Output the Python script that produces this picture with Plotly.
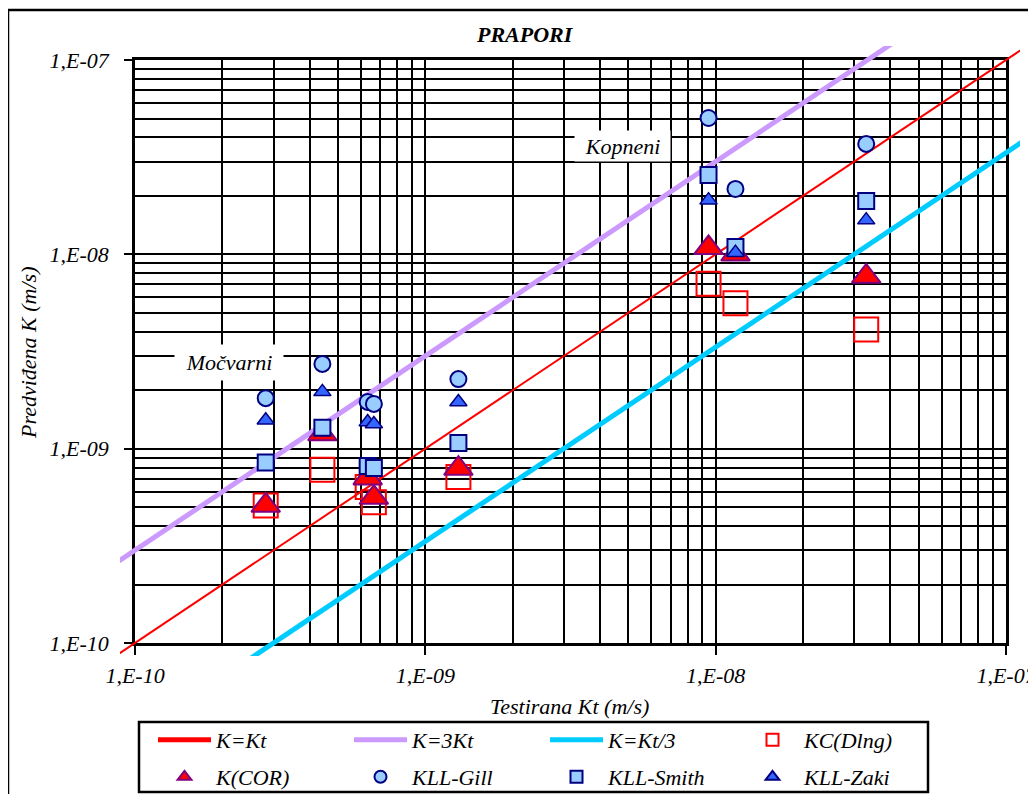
import plotly.graph_objects as go

# ---------------- data ----------------
kt = [2.82e-10, 4.42e-10, 6.33e-10, 6.65e-10, 1.30e-9, 9.45e-9, 1.17e-8, 3.30e-8]
kc_dlng = [5.1e-10, 7.8e-10, 6.35e-10, 5.3e-10, 7.15e-10, 7.05e-9, 5.6e-9, 4.1e-9]
k_cor = [5.1e-10, 1.19e-9, 7.05e-10, 5.6e-10, 7.9e-10, 1.08e-8, 1.0e-8, 7.7e-9]
kll_gill = [1.82e-9, 2.73e-9, 1.74e-9, 1.70e-9, 2.28e-9, 5.03e-8, 2.17e-8, 3.70e-8]
kll_smith = [8.5e-10, 1.28e-9, 8.15e-10, 7.95e-10, 1.07e-9, 2.56e-8, 1.09e-8, 1.88e-8]
kll_zaki = [1.40e-9, 1.96e-9, 1.37e-9, 1.34e-9, 1.74e-9, 1.90e-8, 1.02e-8, 1.50e-8]

line_kt = [1e-11, 1e-6]
line_k_eq = [1e-11, 1e-6]
line_k_3 = [3e-11, 3e-6]
line_k_div3 = [3.333e-12, 3.333e-7]

tick_vals = [1e-10, 1e-9, 1e-8, 1e-7]
tick_text = ["1,E-10", "1,E-09", "1,E-08", "1,E-07"]

# ---------------- layout helpers ----------------
W, H = 1036, 794
OFF = 8                      # page offset of the figure (body margin)
GX0, GY0, GX1, GY1 = 120, 46, 1020, 656   # page coords of the (extended) plotting area
GW, GH = GX1 - GX0, GY1 - GY0
L, T = GX0 - OFF, GY0 - OFF
R, B = W - (GX1 - OFF), H - (GY1 - OFF)


def px(xp):
    return (xp - GX0) / GW


def py(yp):
    return (GY1 - yp) / GH


FONT = "Liberation Serif"
ifont = dict(family=FONT, size=22, color="black", style="italic")

fig = go.Figure()

# invisible trace so that the grid subplot exists
fig.add_trace(go.Scatter(x=[1e-9], y=[1e-9], mode="markers", marker=dict(opacity=0),
                         showlegend=False, hoverinfo="skip", xaxis="x", yaxis="y"))

# lines (drawn in a slightly larger clip area like the original)
fig.add_trace(go.Scatter(x=line_kt, y=line_k_eq, mode="lines", name="K=Kt",
                         line=dict(color="#FF0000", width=2),
                         xaxis="x2", yaxis="y2", legend="legend"))
fig.add_trace(go.Scatter(x=line_kt, y=line_k_3, mode="lines", name="K=3Kt",
                         line=dict(color="#CC99FF", width=5),
                         xaxis="x2", yaxis="y2", legend="legend"))
fig.add_trace(go.Scatter(x=line_kt, y=line_k_div3, mode="lines", name="K=Kt/3",
                         line=dict(color="#00CCFF", width=5),
                         xaxis="x2", yaxis="y2", legend="legend"))
fig.add_trace(go.Scatter(x=kt, y=kc_dlng, mode="markers", name="KC(Dlng)",
                         marker=dict(symbol="square-open", size=24, color="#FF0000",
                                     line=dict(width=2, color="#FF0000")),
                         xaxis="x2", yaxis="y2", legend="legend"))
fig.add_trace(go.Scatter(x=kt, y=k_cor, mode="markers", name="K(COR)",
                         marker=dict(symbol="triangle-up", size=25, color="#FF0000",
                                     line=dict(width=2, color="#800080")),
                         xaxis="x2", yaxis="y2", legend="legend2"))
fig.add_trace(go.Scatter(x=kt, y=kll_gill, mode="markers", name="KLL-Gill",
                         marker=dict(symbol="circle", size=16, color="#99CCFF",
                                     line=dict(width=2, color="#000080")),
                         xaxis="x2", yaxis="y2", legend="legend2"))
fig.add_trace(go.Scatter(x=kt, y=kll_smith, mode="markers", name="KLL-Smith",
                         marker=dict(symbol="square", size=16, color="#99CCFF",
                                     line=dict(width=2, color="#000080")),
                         xaxis="x2", yaxis="y2", legend="legend2"))
fig.add_trace(go.Scatter(x=kt, y=kll_zaki, mode="markers", name="KLL-Zaki",
                         marker=dict(symbol="triangle-up", size=15, color="#3366FF",
                                     line=dict(width=1.5, color="#000080")),
                         xaxis="x2", yaxis="y2", legend="legend2"))

dec_x = (1006 - 135) / 3.0
dec_y = (643 - 60) / 3.0

grid = dict(type="log", showgrid=True, gridcolor="black", gridwidth=2,
            minor=dict(dtick="D1", showgrid=True, gridcolor="black", gridwidth=2, ticks=""),
            tickvals=tick_vals, ticktext=tick_text, tickfont=ifont,
            ticks="outside", tickwidth=2, tickcolor="black",
            showline=True, linecolor="black", linewidth=2.5, mirror=True,
            zeroline=False, automargin=False)

leg = dict(orientation="h", xanchor="left", yanchor="middle",
           entrywidth=128, entrywidthmode="pixels", itemwidth=53,
           font=ifont, bgcolor="rgba(0,0,0,0)", borderwidth=0,
           itemsizing="constant")

fig.update_layout(
    width=W, height=H,
    margin=dict(l=L, r=R, t=T, b=B, autoexpand=False),
    paper_bgcolor="white", plot_bgcolor="rgba(0,0,0,0)",
    xaxis=dict(grid, range=[-10, -7], domain=[px(135), px(1006)], anchor="y",
               ticklen=9, ticklabelstandoff=2),
    yaxis=dict(grid, range=[-10, -7], domain=[py(643), py(60)], anchor="x",
               ticklen=8, ticklabelstandoff=11),
    xaxis2=dict(type="log", range=[-10 - 15 / dec_x, -7 + 14 / dec_x], domain=[0, 1],
                anchor="y2", visible=False),
    yaxis2=dict(type="log", range=[-10 - 13 / dec_y, -7 + 14 / dec_y], domain=[0, 1],
                anchor="x2", visible=False),
    showlegend=True,
    legend=dict(leg, x=px(153), y=py(740)),
    legend2=dict(leg, x=px(153), y=py(777)),
)

ann = dict(xref="paper", yref="paper", showarrow=False, xanchor="center", yanchor="middle")
annotations = [
    dict(ann, text="PRAPORI", x=px(525), y=py(34),
         font=dict(family=FONT, size=22, color="black", style="italic", weight="bold")),
    dict(ann, text="Predviđena K (m/s)", x=px(28), y=py(353), textangle=-90, font=ifont),
    dict(ann, text="Testirana Kt (m/s)", x=px(569), y=py(706), font=ifont),
    dict(ann, text="Močvarni", x=px(229), y=py(362.5), font=ifont,
         width=108, height=35, bgcolor="white", borderpad=0),
    dict(ann, text="Kopneni", x=px(622.5), y=py(146), font=ifont,
         width=95, height=30, bgcolor="white", borderpad=0),
]
fig.update_layout(annotations=annotations)

fig.update_layout(shapes=[
    dict(type="rect", xref="paper", yref="paper", x0=px(8), y0=py(10), x1=px(1050), y1=py(810),
         line=dict(color="black", width=2.5)),
    dict(type="rect", xref="paper", yref="paper", x0=px(139), y0=py(722), x1=px(928), y1=py(792),
         line=dict(color="black", width=2.5)),
])

fig.write_html("out.html")
